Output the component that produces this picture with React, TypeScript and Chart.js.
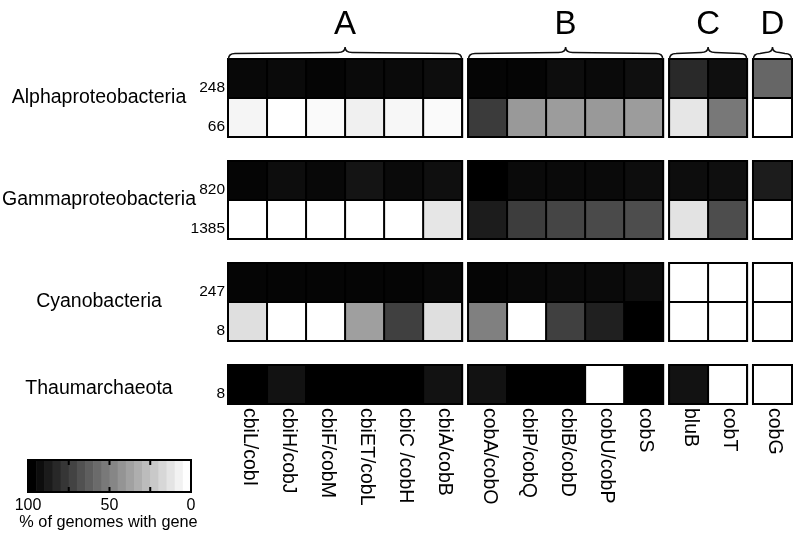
import React, { useEffect, useRef } from 'react';
import { Chart, registerables } from 'chart.js';

Chart.register(...registerables);

// ---------- data ----------
const groupLetters = ['A', 'B', 'C', 'D'];
const groupA = ['cbiL/cobI', 'cbiH/cobJ', 'cbiF/cobM', 'cbiET/cobL', 'cbiC /cobH', 'cbiA/cobB'];
const groupB = ['cobA/cobO', 'cbiP/cobQ', 'cbiB/cobD', 'cobU/cobP', 'cobS'];
const groupC = ['bluB', 'cobT'];
const groupD = ['cobG'];
const groupGenes = [groupA, groupB, groupC, groupD];

const taxa = ['Alphaproteobacteria', 'Gammaproteobacteria', 'Cyanobacteria', 'Thaumarchaeota'];
const genomeCounts = [['248', '66'], ['820', '1385'], ['247', '8'], ['8']];

// % of genomes with gene, one value per gene (A..D order)
const alpha248 = [97, 96, 98, 96, 96, 95, 98, 98, 95, 96, 94, 84, 94, 60];
const alpha66 = [4, 0, 2, 6, 3, 2, 77, 40, 39, 40, 39, 10, 53, 0];
const gamma820 = [98, 95, 97, 92, 96, 94, 100, 96, 96, 96, 95, 95, 94, 89];
const gamma1385 = [0, 0, 0, 0, 0, 10, 89, 76, 73, 71, 70, 11, 70, 0];
const cyano247 = [98, 98, 98, 98, 98, 97, 98, 97, 96, 96, 95, 0, 0, 0];
const cyano8 = [12.5, 0, 0, 37.5, 75, 12.5, 50, 0, 75, 87.5, 100, 0, 0, 0];
const thaum8 = [100, 93, 100, 100, 100, 93, 93, 100, 100, 0, 100, 93, 0, 0];
const taxonRows = [[alpha248, alpha66], [gamma820, gamma1385], [cyano247, cyano8], [thaum8]];

const legendTicks = [100, 50, 0];
const legendTitle = '% of genomes with gene';

// ---------- layout ----------
const FONT = '"Liberation Sans", Arial, Helvetica, sans-serif';
const GAP_X = 0.15;
const GAP_Y = 24 / 39;

const colCenters: number[] = [];
const groupRanges: [number, number][] = [];
const geneLabels: string[] = [];
{
  let pos = 0;
  groupGenes.forEach((genes, gi) => {
    const start = pos;
    genes.forEach((g) => {
      colCenters.push(pos + 0.5);
      geneLabels.push(g);
      pos += 1;
    });
    groupRanges.push([start, pos]);
    if (gi < groupGenes.length - 1) pos += GAP_X;
  });
}
const totalX = groupRanges[groupRanges.length - 1][1];

const blockTops: number[] = [];
{
  let top = 0;
  taxonRows.forEach((rows) => {
    blockTops.push(top);
    top += rows.length + GAP_Y;
  });
}
const totalY = blockTops[blockTops.length - 1] + taxonRows[taxonRows.length - 1].length;

const countTickValues: number[] = [];
const countTickLabels: string[] = [];
taxonRows.forEach((rows, t) => {
  rows.forEach((_, r) => {
    countTickValues.push(blockTops[t] + r + 0.74);
    countTickLabels.push(genomeCounts[t][r]);
  });
});
const nameTickValues = taxonRows.map((rows, t) => blockTops[t] + rows.length / 2 + (rows.length === 1 ? 0.1 : 0));

const grayFor = (p: number) => {
  const v = Math.round(255 * (1 - p / 100));
  return `rgb(${v},${v},${v})`;
};

const datasets: any[] = [];
taxonRows.forEach((rows, t) => {
  rows.forEach((vals, r) => {
    datasets.push({
      label: `${taxa[t]} ${genomeCounts[t][r]}`,
      data: colCenters.map((c) => ({ x: c, y: [blockTops[t] + r, blockTops[t] + r + 1] })),
      backgroundColor: vals.map(grayFor),
      borderColor: '#000',
      borderWidth: 1.5,
      borderSkipped: false,
      inflateAmount: 0.5,
      grouped: false,
      barPercentage: 1,
      categoryPercentage: 1,
    });
  });
});

const decorPlugin = {
  id: 'decor',
  afterDatasetsDraw(chart: any) {
    const { ctx } = chart;
    const x = chart.scales.x;
    const y = chart.scales.y;
    ctx.save();
    const T = y.getPixelForValue(0);
    const B = y.getPixelForValue(totalY);

    groupRanges.forEach(([a, b], gi) => {
      const x0 = x.getPixelForValue(a);
      const x1 = x.getPixelForValue(b);
      // outlines
      ctx.strokeStyle = '#000';
      ctx.lineWidth = 2;
      blockTops.forEach((bt, t) => {
        const y0 = y.getPixelForValue(bt);
        const y1 = y.getPixelForValue(bt + taxonRows[t].length);
        ctx.strokeRect(x0, y0, x1 - x0, y1 - y0);
      });
      // brace
      const cx = (x0 + x1) / 2;
      const r = 7;
      ctx.lineWidth = 1.5;
      ctx.strokeStyle = '#111';
      ctx.beginPath();
      ctx.moveTo(x0 + 0.5, T);
      ctx.quadraticCurveTo(x0 + 0.5, T - 5.5, x0 + r, T - 5.5);
      ctx.lineTo(cx - r, T - 6.5);
      ctx.quadraticCurveTo(cx, T - 6.5, cx, T - 12);
      ctx.quadraticCurveTo(cx, T - 6.5, cx + r, T - 6.5);
      ctx.lineTo(x1 - r, T - 5.5);
      ctx.quadraticCurveTo(x1 - 0.5, T - 5.5, x1 - 0.5, T);
      ctx.stroke();
      // letter
      ctx.fillStyle = '#000';
      ctx.font = `33px ${FONT}`;
      ctx.textAlign = 'center';
      ctx.textBaseline = 'alphabetic';
      ctx.fillText(groupLetters[gi], cx, T - 25);
    });

    // gene labels (rotated clockwise)
    ctx.fillStyle = '#000';
    ctx.font = `19.5px ${FONT}`;
    ctx.textAlign = 'left';
    ctx.textBaseline = 'alphabetic';
    colCenters.forEach((c, i) => {
      const px = x.getPixelForValue(c);
      ctx.save();
      ctx.translate(px - 3.5, B + 4);
      ctx.rotate(Math.PI / 2);
      ctx.fillText(geneLabels[i], 0, 0);
      ctx.restore();
    });

    // colour bar legend
    const LX0 = 28, LX1 = 191, LY0 = 460, LY1 = 492, N = 20;
    const w = (LX1 - LX0) / N;
    for (let i = 0; i < N; i++) {
      const v = Math.round((255 * i) / (N - 1));
      ctx.fillStyle = `rgb(${v},${v},${v})`;
      ctx.fillRect(LX0 + i * w, LY0, w + 0.6, LY1 - LY0);
    }
    ctx.strokeStyle = '#000';
    ctx.lineWidth = 2;
    ctx.strokeRect(LX0, LY0, LX1 - LX0, LY1 - LY0);
    [0.25, 0.5, 0.75].forEach((f) => {
      const lx = LX0 + f * (LX1 - LX0);
      ctx.beginPath();
      ctx.moveTo(lx, LY0);
      ctx.lineTo(lx, LY0 + 5);
      ctx.moveTo(lx, LY1);
      ctx.lineTo(lx, LY1 - 5);
      ctx.stroke();
    });
    ctx.fillStyle = '#000';
    ctx.font = `16px ${FONT}`;
    ctx.textAlign = 'center';
    ctx.textBaseline = 'middle';
    legendTicks.forEach((v) => {
      const f = 1 - v / 100;
      ctx.fillText(String(v), LX0 + f * (LX1 - LX0), 506);
    });
    ctx.font = `16.3px ${FONT}`;
    ctx.fillText(legendTitle, (LX0 + LX1) / 2 - 1, 523);
    ctx.restore();
  },
};

export default function App() {
  const ref = useRef<HTMLCanvasElement>(null);
  useEffect(() => {
    const canvas = ref.current;
    if (!canvas) return;
    const chart = new Chart(canvas, {
      type: 'bar',
      data: { datasets },
      options: {
        responsive: false,
        animation: false,
        devicePixelRatio: 1,
        events: [],
        layout: { padding: { top: 59, right: 4, bottom: 129, left: 0 } },
        plugins: { legend: { display: false }, tooltip: { enabled: false }, title: { display: false } },
        scales: {
          x: {
            type: 'linear',
            min: 0,
            max: totalX,
            offset: false,
            bounds: 'data',
            display: false,
            afterBuildTicks: (s: any) => {
              s.ticks = colCenters.map((v) => ({ value: v }));
            },
          },
          y: {
            type: 'linear',
            position: 'left',
            weight: 1,
            reverse: true,
            min: 0,
            max: totalY,
            bounds: 'data',
            offset: false,
            grid: { display: false, drawTicks: false },
            border: { display: false },
            afterBuildTicks: (s: any) => {
              s.ticks = countTickValues.map((v) => ({ value: v }));
            },
            afterFit: (s: any) => {
              s.width = 228;
            },
            ticks: {
              autoSkip: false,
              padding: 3,
              color: '#000',
              font: { family: FONT, size: 15.5 },
              callback: (_v: any, i: number) => countTickLabels[i],
            },
          },
          yName: {
            type: 'linear',
            position: 'left',
            weight: 2,
            reverse: true,
            min: 0,
            max: totalY,
            bounds: 'data',
            offset: false,
            grid: { display: false, drawTicks: false },
            border: { display: false },
            afterBuildTicks: (s: any) => {
              s.ticks = nameTickValues.map((v) => ({ value: v }));
            },
            afterFit: (s: any) => {
              s.width = 0;
            },
            ticks: {
              autoSkip: false,
              mirror: true,
              padding: 2,
              crossAlign: 'center',
              color: '#000',
              font: { family: FONT, size: 19.5 },
              callback: (_v: any, i: number) => taxa[i],
            },
          },
        },
      } as any,
      plugins: [decorPlugin],
    });
    return () => chart.destroy();
  }, []);
  return (
    <div style={{ position: 'absolute', left: 0, top: 0, width: 796, height: 533, background: '#fff' }}>
      <canvas ref={ref} width={796} height={533} style={{ display: 'block', width: 796, height: 533 }} />
    </div>
  );
}
